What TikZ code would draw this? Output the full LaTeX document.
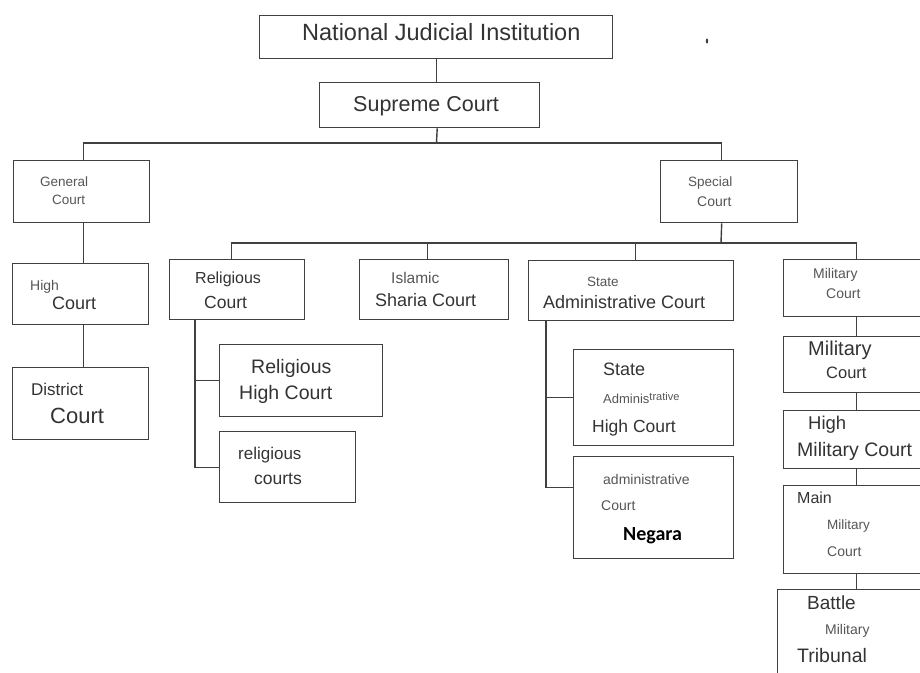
\documentclass[tikz,border=0pt]{standalone}
\usepackage{fontspec}
\setmainfont{Liberation Sans}
\newfontfamily\negfont{Carlito}
\usepackage{tikz}
\usetikzlibrary{positioning, calc}
\definecolor{linegray}{HTML}{404040}
\definecolor{txtgray}{HTML}{333333}
\definecolor{lightgray}{HTML}{555555}
\newcommand{\fsz}[1]{\fontsize{#1}{#1}\selectfont}
\tikzstyle{box} = [rectangle, draw=linegray, line width=1.4pt, anchor=north west, inner sep=0pt]
\tikzstyle{txt} = [anchor=mid west, inner sep=0pt, text=txtgray]
\tikzstyle{small} = [anchor=mid west, inner sep=0pt, text=lightgray]
\tikzstyle{link} = [draw=linegray, line width=1.4pt]
\tikzset{fs/.style={font=\fsz{#1}, yshift=-0.2*#1}}

\begin{document}
\begin{tikzpicture}[x=1pt, y=-1pt]
\useasboundingbox (0,0) rectangle (920,672);

% boxes
\node(nji)[box, minimum width=353, minimum height=43] at (259,15) {};
\node(sup)[box, minimum width=220, minimum height=45] at (319,82) {};
\node(gen)[box, minimum width=136, minimum height=62] at (13,160) {};
\node(spc)[box, minimum width=137, minimum height=62] at (660,160) {};
\node(hc)[box, minimum width=136, minimum height=61] at (12,263) {};
\node(dc)[box, minimum width=136, minimum height=72] at (12,367) {};
\node(rel)[box, minimum width=135, minimum height=60] at (169,259) {};
\node(isl)[box, minimum width=149, minimum height=60] at (359,259) {};
\node(sta)[box, minimum width=205, minimum height=60] at (528,260) {};
\node(mil)[box, minimum width=145, minimum height=57] at (783,259) {};
\node(rhc)[box, minimum width=163, minimum height=72] at (219,344) {};
\node(rcs)[box, minimum width=136, minimum height=71] at (219,431) {};
\node(sah)[box, minimum width=160, minimum height=96] at (573,349) {};
\node(acn)[box, minimum width=160, minimum height=102] at (573,456) {};
\node(mc2)[box, minimum width=145, minimum height=56] at (783,336) {};
\node(hmc)[box, minimum width=145, minimum height=58] at (783,410) {};
\node(mmc)[box, minimum width=145, minimum height=88] at (783,485) {};
\node(bat)[box, minimum width=157, minimum height=100] at (777,589) {};

% texts
\node(njiA)[txt, fs=23.5] at (302,33) {National Judicial Institution};
\node(supA)[txt, fs=21.5] at (353,105) {Supreme Court};
\node(genA)[small, fs=13.5] at (40,181) {General};
\node(genB)[small, fs=13.5] at (52,199) {Court};
\node(spcA)[small, fs=13.5] at (688,181) {Special};
\node(spcB)[small, fs=14] at (697,201) {Court};
\node(hcA)[small, fs=14] at (30,285) {High};
\node(hcB)[txt, fs=18] at (52,303) {Court};
\node(dcA)[txt, fs=17] at (31,389) {District};
\node(dcB)[txt, fs=22] at (50,416) {Court};
\node(relA)[txt, fs=16] at (195,278) {Religious};
\node(relB)[txt, fs=17.5] at (204,302) {Court};
\node(islA)[small, fs=15.5] at (391,278) {Islamic};
\node(islB)[txt, fs=18] at (375,300) {Sharia Court};
\node(staA)[small, fs=13.5] at (587,281) {State};
\node(staB)[txt, fs=18] at (543,302) {Administrative Court};
\node(milA)[small, fs=14] at (813,273) {Military};
\node(milB)[small, fs=14] at (826,293) {Court};
\node(rhcA)[txt, fs=19.5] at (251,367) {Religious};
\node(rhcB)[txt, fs=19.5] at (239,393) {High Court};
\node(rcsA)[txt, fs=17] at (238,453) {religious};
\node(rcsB)[txt, fs=17.5] at (254,478) {courts};
\node(sahA)[txt, fs=18] at (603,369) {State};
\node(sahB)[small, fs=13] at (603,398) {Adminis\raisebox{3pt}{\fsz{11}trative}};
\node(sahC)[txt, fs=17.5] at (592,426) {High Court};
\node(acnA)[small, fs=14] at (603,479) {administrative};
\node(acnB)[small, fs=14] at (601,505) {Court};
\node(acnC)[txt, text=black, fs=20, font=\negfont\bfseries\fsz{20}] at (623,534) {Negara};
\node(mc2A)[txt, fs=20] at (808,349) {Military};
\node(mc2B)[txt, fs=16.5] at (826,373) {Court};
\node(hmcA)[txt, fs=18.5] at (808,423) {High};
\node(hmcB)[txt, fs=19.5] at (797,450) {Military Court};
\node(mmcA)[txt, fs=16] at (797,498) {Main};
\node(mmcB)[small, fs=13.5] at (827,524) {Military};
\node(mmcC)[small, fs=14] at (827,551) {Court};
\node(batA)[txt, fs=19] at (807,603) {Battle};
\node(batB)[small, fs=14] at (825,629) {Military};
\node(batC)[txt, fs=19.5] at (797,656) {Tribunal};

% stray mark
\fill[linegray] (707,41) ellipse (1.2 and 2.5);

% connectors
\coordinate (bus1) at (436.5,143);
\coordinate (bus2) at (721,243);
\draw [link] (nji.south) -- (nji.south |- sup.north);
\draw [link] ([xshift=1]nji.south |- sup.south) -- (bus1);
\draw [link] ([xshift=2]gen.north) |- (bus1) -| ([xshift=-7.5]spc.north);
\draw [link] ([xshift=2]gen.south) -- ([xshift=3]hc.north);
\draw [link] ([xshift=3]hc.south) -- ([xshift=3]dc.north);
\draw [link] ([xshift=-7.5]spc.south) -- (bus2);
\draw [link] ([xshift=-6]rel.north) |- (bus2) -| (mil.north);
\draw [link] ([xshift=-7]isl.north) -- ([xshift=-7]isl.north |- bus2);
\draw [link] ([xshift=4]sta.north) -- ([xshift=4]sta.north |- bus2);
\coordinate (relstem) at ([xshift=26]rel.south west);
\draw [link] (relstem) |- (rcs.west);
\draw [link] (relstem |- rhc.west) -- (rhc.west);
\coordinate (stastem) at ([xshift=18]sta.south west);
\draw [link] (stastem) |- ([yshift=20]acn.west);
\draw [link] (stastem |- sah.west) -- (sah.west);
\draw [link] (mil.south) -- (mc2.north);
\draw [link] (mc2.south) -- (hmc.north);
\draw [link] (hmc.south) -- (mmc.north);
\draw [link] (mmc.south) -- (bat.north);
\end{tikzpicture}
\end{document}
